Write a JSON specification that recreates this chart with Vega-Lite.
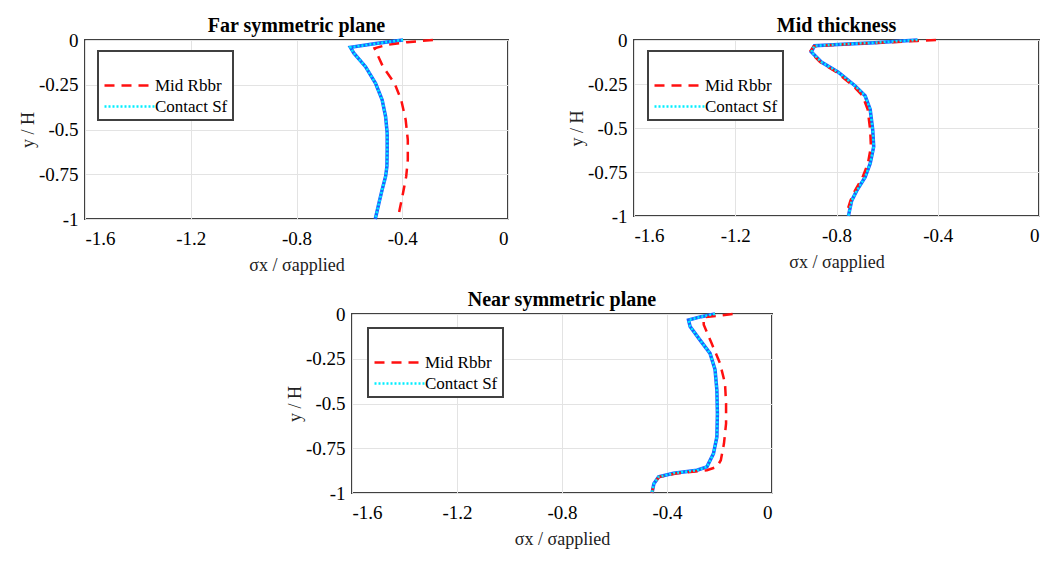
{
  "$schema": "https://vega.github.io/schema/vega-lite/v6.json",
  "background": "white",
  "padding": {"left": 18, "top": 15, "right": 0, "bottom": 0},
  "config": {
    "font": "Liberation Serif",
    "view": {"stroke": "#404040", "strokeWidth": 2},
    "title": {"font": "Liberation Serif", "fontSize": 20, "fontWeight": "bold", "color": "black", "offset": -5, "anchor": "middle", "frame": "group"},
    "axis": {"domain": false, "ticks": false, "grid": true, "gridColor": "#e3e3e3", "gridWidth": 1, "labelFont": "Liberation Serif", "labelFontSize": 19, "labelColor": "black", "labelExpr": "'' + datum.value", "titleFont": "Liberation Serif", "titleFontSize": 18, "titleFontWeight": "normal", "titleColor": "#222"},
    "axisX": {"labelPadding": 10, "titlePadding": 8},
    "axisY": {"labelPadding": 7, "titlePadding": 1},
    "legend": {"orient": "none", "strokeColor": "#404040", "strokeWidth": 2, "fillColor": "white", "padding": 5, "labelFont": "Liberation Serif", "labelFontSize": 17, "labelColor": "black", "labelOffset": 33, "labelLimit": 300, "symbolType": "M-1,0H5.25", "symbolSize": 256, "symbolStrokeWidth": 2.5, "rowPadding": 3, "titleFontSize": 16, "titlePadding": 4}
  },
  "data": {"values": [
    {"p": "Far", "s": "Mid Rbbr", "i": 0, "x": -0.284, "y": 0},
    {"p": "Far", "s": "Mid Rbbr", "i": 1, "x": -0.38, "y": -0.012},
    {"p": "Far", "s": "Mid Rbbr", "i": 2, "x": -0.46, "y": -0.028},
    {"p": "Far", "s": "Mid Rbbr", "i": 3, "x": -0.505, "y": -0.046},
    {"p": "Far", "s": "Mid Rbbr", "i": 4, "x": -0.473, "y": -0.149},
    {"p": "Far", "s": "Mid Rbbr", "i": 5, "x": -0.429, "y": -0.242},
    {"p": "Far", "s": "Mid Rbbr", "i": 6, "x": -0.404, "y": -0.335},
    {"p": "Far", "s": "Mid Rbbr", "i": 7, "x": -0.387, "y": -0.446},
    {"p": "Far", "s": "Mid Rbbr", "i": 8, "x": -0.379, "y": -0.558},
    {"p": "Far", "s": "Mid Rbbr", "i": 9, "x": -0.379, "y": -0.669},
    {"p": "Far", "s": "Mid Rbbr", "i": 10, "x": -0.385, "y": -0.762},
    {"p": "Far", "s": "Mid Rbbr", "i": 11, "x": -0.397, "y": -0.855},
    {"p": "Far", "s": "Mid Rbbr", "i": 12, "x": -0.41, "y": -0.948},
    {"p": "Far", "s": "Mid Rbbr", "i": 13, "x": -0.413, "y": -0.97},
    {"p": "Far", "s": "Contact Sf", "i": 0, "x": -0.397, "y": 0},
    {"p": "Far", "s": "Contact Sf", "i": 1, "x": -0.5, "y": -0.02},
    {"p": "Far", "s": "Contact Sf", "i": 2, "x": -0.596, "y": -0.041},
    {"p": "Far", "s": "Contact Sf", "i": 3, "x": -0.583, "y": -0.074},
    {"p": "Far", "s": "Contact Sf", "i": 4, "x": -0.539, "y": -0.149},
    {"p": "Far", "s": "Contact Sf", "i": 5, "x": -0.501, "y": -0.242},
    {"p": "Far", "s": "Contact Sf", "i": 6, "x": -0.476, "y": -0.335},
    {"p": "Far", "s": "Contact Sf", "i": 7, "x": -0.463, "y": -0.428},
    {"p": "Far", "s": "Contact Sf", "i": 8, "x": -0.457, "y": -0.52},
    {"p": "Far", "s": "Contact Sf", "i": 9, "x": -0.457, "y": -0.613},
    {"p": "Far", "s": "Contact Sf", "i": 10, "x": -0.458, "y": -0.706},
    {"p": "Far", "s": "Contact Sf", "i": 11, "x": -0.463, "y": -0.762},
    {"p": "Far", "s": "Contact Sf", "i": 12, "x": -0.476, "y": -0.836},
    {"p": "Far", "s": "Contact Sf", "i": 13, "x": -0.488, "y": -0.91},
    {"p": "Far", "s": "Contact Sf", "i": 14, "x": -0.502, "y": -1},
    {"p": "Mid", "s": "Mid Rbbr", "i": 0, "x": -0.407, "y": 0},
    {"p": "Mid", "s": "Mid Rbbr", "i": 1, "x": -0.48, "y": -0.005},
    {"p": "Mid", "s": "Mid Rbbr", "i": 2, "x": -0.65, "y": -0.017},
    {"p": "Mid", "s": "Mid Rbbr", "i": 3, "x": -0.8, "y": -0.027},
    {"p": "Mid", "s": "Mid Rbbr", "i": 4, "x": -0.89, "y": -0.035},
    {"p": "Mid", "s": "Mid Rbbr", "i": 5, "x": -0.905, "y": -0.067},
    {"p": "Mid", "s": "Mid Rbbr", "i": 6, "x": -0.865, "y": -0.125},
    {"p": "Mid", "s": "Mid Rbbr", "i": 7, "x": -0.8, "y": -0.183},
    {"p": "Mid", "s": "Mid Rbbr", "i": 8, "x": -0.735, "y": -0.26},
    {"p": "Mid", "s": "Mid Rbbr", "i": 9, "x": -0.697, "y": -0.317},
    {"p": "Mid", "s": "Mid Rbbr", "i": 10, "x": -0.677, "y": -0.394},
    {"p": "Mid", "s": "Mid Rbbr", "i": 11, "x": -0.667, "y": -0.51},
    {"p": "Mid", "s": "Mid Rbbr", "i": 12, "x": -0.664, "y": -0.606},
    {"p": "Mid", "s": "Mid Rbbr", "i": 13, "x": -0.676, "y": -0.702},
    {"p": "Mid", "s": "Mid Rbbr", "i": 14, "x": -0.697, "y": -0.779},
    {"p": "Mid", "s": "Mid Rbbr", "i": 15, "x": -0.727, "y": -0.856},
    {"p": "Mid", "s": "Mid Rbbr", "i": 16, "x": -0.745, "y": -0.913},
    {"p": "Mid", "s": "Mid Rbbr", "i": 17, "x": -0.755, "y": -0.96},
    {"p": "Mid", "s": "Contact Sf", "i": 0, "x": -0.48, "y": 0},
    {"p": "Mid", "s": "Contact Sf", "i": 1, "x": -0.65, "y": -0.015},
    {"p": "Mid", "s": "Contact Sf", "i": 2, "x": -0.793, "y": -0.025},
    {"p": "Mid", "s": "Contact Sf", "i": 3, "x": -0.887, "y": -0.033},
    {"p": "Mid", "s": "Contact Sf", "i": 4, "x": -0.9, "y": -0.067},
    {"p": "Mid", "s": "Contact Sf", "i": 5, "x": -0.86, "y": -0.125},
    {"p": "Mid", "s": "Contact Sf", "i": 6, "x": -0.793, "y": -0.183},
    {"p": "Mid", "s": "Contact Sf", "i": 7, "x": -0.727, "y": -0.26},
    {"p": "Mid", "s": "Contact Sf", "i": 8, "x": -0.687, "y": -0.317},
    {"p": "Mid", "s": "Contact Sf", "i": 9, "x": -0.667, "y": -0.394},
    {"p": "Mid", "s": "Contact Sf", "i": 10, "x": -0.657, "y": -0.51},
    {"p": "Mid", "s": "Contact Sf", "i": 11, "x": -0.653, "y": -0.606},
    {"p": "Mid", "s": "Contact Sf", "i": 12, "x": -0.667, "y": -0.702},
    {"p": "Mid", "s": "Contact Sf", "i": 13, "x": -0.687, "y": -0.779},
    {"p": "Mid", "s": "Contact Sf", "i": 14, "x": -0.72, "y": -0.856},
    {"p": "Mid", "s": "Contact Sf", "i": 15, "x": -0.74, "y": -0.913},
    {"p": "Mid", "s": "Contact Sf", "i": 16, "x": -0.753, "y": -1},
    {"p": "Near", "s": "Mid Rbbr", "i": 0, "x": -0.15, "y": 0},
    {"p": "Near", "s": "Mid Rbbr", "i": 1, "x": -0.261, "y": -0.019},
    {"p": "Near", "s": "Mid Rbbr", "i": 2, "x": -0.26, "y": -0.06},
    {"p": "Near", "s": "Mid Rbbr", "i": 3, "x": -0.23, "y": -0.164},
    {"p": "Near", "s": "Mid Rbbr", "i": 4, "x": -0.198, "y": -0.276},
    {"p": "Near", "s": "Mid Rbbr", "i": 5, "x": -0.179, "y": -0.388},
    {"p": "Near", "s": "Mid Rbbr", "i": 6, "x": -0.175, "y": -0.5},
    {"p": "Near", "s": "Mid Rbbr", "i": 7, "x": -0.175, "y": -0.612},
    {"p": "Near", "s": "Mid Rbbr", "i": 8, "x": -0.183, "y": -0.724},
    {"p": "Near", "s": "Mid Rbbr", "i": 9, "x": -0.195, "y": -0.817},
    {"p": "Near", "s": "Mid Rbbr", "i": 10, "x": -0.21, "y": -0.854},
    {"p": "Near", "s": "Mid Rbbr", "i": 11, "x": -0.248, "y": -0.873},
    {"p": "Near", "s": "Mid Rbbr", "i": 12, "x": -0.36, "y": -0.89},
    {"p": "Near", "s": "Mid Rbbr", "i": 13, "x": -0.43, "y": -0.91},
    {"p": "Near", "s": "Mid Rbbr", "i": 14, "x": -0.45, "y": -0.948},
    {"p": "Near", "s": "Mid Rbbr", "i": 15, "x": -0.457, "y": -1},
    {"p": "Near", "s": "Contact Sf", "i": 0, "x": -0.217, "y": 0},
    {"p": "Near", "s": "Contact Sf", "i": 1, "x": -0.27, "y": -0.015},
    {"p": "Near", "s": "Contact Sf", "i": 2, "x": -0.318, "y": -0.034},
    {"p": "Near", "s": "Contact Sf", "i": 3, "x": -0.312, "y": -0.07},
    {"p": "Near", "s": "Contact Sf", "i": 4, "x": -0.274, "y": -0.146},
    {"p": "Near", "s": "Contact Sf", "i": 5, "x": -0.236, "y": -0.22},
    {"p": "Near", "s": "Contact Sf", "i": 6, "x": -0.217, "y": -0.31},
    {"p": "Near", "s": "Contact Sf", "i": 7, "x": -0.21, "y": -0.425},
    {"p": "Near", "s": "Contact Sf", "i": 8, "x": -0.208, "y": -0.556},
    {"p": "Near", "s": "Contact Sf", "i": 9, "x": -0.21, "y": -0.687},
    {"p": "Near", "s": "Contact Sf", "i": 10, "x": -0.223, "y": -0.78},
    {"p": "Near", "s": "Contact Sf", "i": 11, "x": -0.248, "y": -0.854},
    {"p": "Near", "s": "Contact Sf", "i": 12, "x": -0.286, "y": -0.873},
    {"p": "Near", "s": "Contact Sf", "i": 13, "x": -0.375, "y": -0.89},
    {"p": "Near", "s": "Contact Sf", "i": 14, "x": -0.432, "y": -0.91},
    {"p": "Near", "s": "Contact Sf", "i": 15, "x": -0.45, "y": -0.948},
    {"p": "Near", "s": "Contact Sf", "i": 16, "x": -0.457, "y": -1}
  ]},
  "resolve": {"scale": {"color": "independent", "strokeDash": "independent"}},
  "center": true,
  "spacing": 14,
  "vconcat": [
    {
      "resolve": {"scale": {"color": "independent", "strokeDash": "independent"}},
      "spacing": 58,
      "hconcat": [
        {
          "width": 423, "height": 179,
          "title": {"text": "Far symmetric plane"},
          "transform": [{"filter": "datum.p === 'Far'"}],
          "encoding": {
            "x": {"field": "x", "type": "quantitative", "scale": {"domain": [-1.6, 0], "nice": false, "zero": false}, "axis": {"values": [-1.6, -1.2, -0.8, -0.4, 0], "title": "σx / σapplied"}},
            "y": {"field": "y", "type": "quantitative", "scale": {"domain": [-1, 0], "nice": false, "zero": false}, "axis": {"values": [-1, -0.75, -0.5, -0.25, 0], "title": "y / H"}},
            "order": {"field": "i", "type": "quantitative"}
          },
          "layer": [
            {"transform": [{"filter": "datum.s === 'Contact Sf'"}], "mark": {"type": "line", "color": "#1a62ff", "strokeWidth": 3.5}},
            {"mark": {"type": "line", "strokeWidth": 2.5},
             "encoding": {
               "color": {"field": "s", "type": "nominal", "scale": {"domain": ["Mid Rbbr", "Contact Sf"], "range": ["#ff1010", "#00eeff"]}, "legend": {"title": " ", "legendX": 13, "legendY": 11}},
               "strokeDash": {"field": "s", "type": "nominal", "scale": {"domain": ["Mid Rbbr", "Contact Sf"], "range": [[10, 7], [2, 2]]}, "legend": {"title": " ", "legendX": 13, "legendY": 11}}
             }}
          ]
        },
        {
          "width": 405, "height": 176,
          "title": {"text": "Mid thickness"},
          "transform": [{"filter": "datum.p === 'Mid'"}],
          "encoding": {
            "x": {"field": "x", "type": "quantitative", "scale": {"domain": [-1.6, 0], "nice": false, "zero": false}, "axis": {"values": [-1.6, -1.2, -0.8, -0.4, 0], "title": "σx / σapplied"}},
            "y": {"field": "y", "type": "quantitative", "scale": {"domain": [-1, 0], "nice": false, "zero": false}, "axis": {"values": [-1, -0.75, -0.5, -0.25, 0], "title": "y / H"}},
            "order": {"field": "i", "type": "quantitative"}
          },
          "layer": [
            {"transform": [{"filter": "datum.s === 'Contact Sf'"}], "mark": {"type": "line", "color": "#1a62ff", "strokeWidth": 3.5}},
            {"mark": {"type": "line", "strokeWidth": 2.5},
             "encoding": {
               "color": {"field": "s", "type": "nominal", "scale": {"domain": ["Mid Rbbr", "Contact Sf"], "range": ["#ff1010", "#00eeff"]}, "legend": {"title": " ", "legendX": 14, "legendY": 11}},
               "strokeDash": {"field": "s", "type": "nominal", "scale": {"domain": ["Mid Rbbr", "Contact Sf"], "range": [[10, 7], [2, 2]]}, "legend": {"title": " ", "legendX": 14, "legendY": 11}}
             }}
          ]
        }
      ]
    },
    {
      "width": 420, "height": 179,
      "title": {"text": "Near symmetric plane"},
      "transform": [{"filter": "datum.p === 'Near'"}],
      "encoding": {
        "x": {"field": "x", "type": "quantitative", "scale": {"domain": [-1.6, 0], "nice": false, "zero": false}, "axis": {"values": [-1.6, -1.2, -0.8, -0.4, 0], "title": "σx / σapplied"}},
        "y": {"field": "y", "type": "quantitative", "scale": {"domain": [-1, 0], "nice": false, "zero": false}, "axis": {"values": [-1, -0.75, -0.5, -0.25, 0], "title": "y / H"}},
        "order": {"field": "i", "type": "quantitative"}
      },
      "layer": [
        {"transform": [{"filter": "datum.s === 'Contact Sf'"}], "mark": {"type": "line", "color": "#1a62ff", "strokeWidth": 3.5}},
        {"mark": {"type": "line", "strokeWidth": 2.5},
         "encoding": {
           "color": {"field": "s", "type": "nominal", "scale": {"domain": ["Mid Rbbr", "Contact Sf"], "range": ["#ff1010", "#00eeff"]}, "legend": {"title": " ", "legendX": 16, "legendY": 14}},
           "strokeDash": {"field": "s", "type": "nominal", "scale": {"domain": ["Mid Rbbr", "Contact Sf"], "range": [[10, 7], [2, 2]]}, "legend": {"title": " ", "legendX": 16, "legendY": 14}}
         }}
      ]
    }
  ]
}
